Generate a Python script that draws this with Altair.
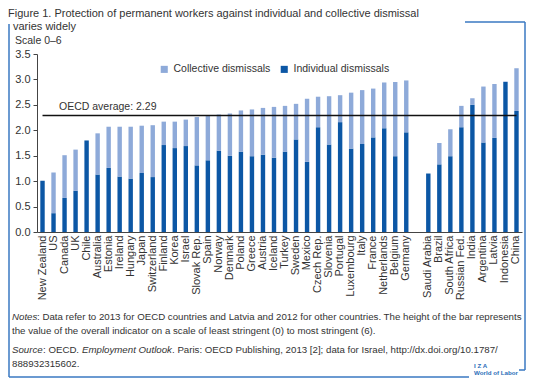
import altair as alt
import pandas as pd

countries = ["New Zealand", "US", "Canada", "UK", "Chile", "Australia", "Estonia",
             "Ireland", "Hungary", "Japan", "Switzerland", "Finland", "Korea", "Israel",
             "Slovak Rep.", "Spain", "Norway", "Denmark", "Poland", "Greece", "Austria",
             "Iceland", "Turkey", "Sweden", "Mexico", "Czech Rep.", "Slovenia", "Portugal",
             "Luxembourg", "Italy", "France", "Netherlands", "Belgium", "Germany", "_gap",
             "Saudi Arabia", "Brazil", "South Africa", "Russian Fed.", "India", "Argentina",
             "Latvia", "Indonesia", "China"]
total = [1.01, 1.17, 1.51, 1.62, 1.80, 1.94, 2.07, 2.07, 2.07, 2.09, 2.10, 2.17, 2.17,
         2.21, 2.26, 2.28, 2.31, 2.33, 2.39, 2.41, 2.44, 2.46, 2.48, 2.52, 2.62, 2.66,
         2.67, 2.69, 2.74, 2.79, 2.82, 2.94, 2.95, 2.98, None, 1.15, 1.75, 2.02, 2.48,
         2.63, 2.86, 2.91, 2.96, 3.22]
individual = [1.01, 0.37, 0.67, 0.81, 1.80, 1.13, 1.26, 1.09, 1.05, 1.16, 1.08, 1.71,
              1.65, 1.69, 1.31, 1.41, 1.60, 1.50, 1.58, 1.49, 1.52, 1.46, 1.58, 1.82,
              1.38, 2.06, 1.72, 2.16, 1.64, 1.73, 1.86, 2.04, 1.49, 1.96, None, 1.15,
              1.33, 1.49, 2.06, 2.50, 1.76, 1.85, 2.95, 2.38]
series = ["Collective dismissals", "Individual dismissals"]
colors = ["#8eaad9", "#0c57a5"]
oecd_avg = 2.29
y_ticks = [0, 0.5, 1, 1.5, 2, 2.5, 3, 3.5]

rows = []
for c, t, i in zip(countries, total, individual):
    if t is None:
        continue
    rows.append({"country": c, "type": series[1], "value": i, "ord": 0})
    rows.append({"country": c, "type": series[0], "value": max(t - i, 0), "ord": 1})
df = pd.DataFrame(rows)

FONT = "Liberation Sans, Arial, sans-serif"

xscale = alt.Scale(domain=countries, paddingInner=0.6, paddingOuter=0.3)
yscale = alt.Scale(domain=[0, 3.5], nice=False)
xaxis = alt.Axis(title=None, labelAngle=-90, ticks=False, labelPadding=3,
                 labelFontSize=11, labelColor="#333", labelFont=FONT,
                 domainColor="#444", labelLimit=200,
                 labelExpr="datum.value == '_gap' ? '' : datum.value")
yaxis = alt.Axis(title=None, values=y_ticks, format=".1f", labelOverlap=False,
                 grid=False, tickSize=4, labelFontSize=11, labelColor="#333",
                 labelFont=FONT, domainColor="#444", tickColor="#444",
                 labelPadding=3)

bars = alt.Chart(df).mark_bar().encode(
    x=alt.X("country:N", scale=xscale, sort=countries, axis=xaxis),
    y=alt.Y("value:Q", stack="zero", scale=yscale, axis=yaxis),
    color=alt.Color("type:N", scale=alt.Scale(domain=series, range=colors),
                    legend=alt.Legend(title=None, orient="none", legendX=122, legendY=10,
                                      direction="horizontal", symbolType="square",
                                      symbolSize=50, symbolStrokeWidth=0,
                                      labelFontSize=10.5, labelColor="#333", labelFont=FONT,
                                      columnPadding=8, labelOffset=4)),
    order=alt.Order("ord:Q"),
)

one = alt.Data(values=[{}])

avg_rule = alt.Chart(one).mark_rule(color="#111", strokeWidth=1.5).encode(
    x=alt.XDatum("New Zealand", scale=xscale, axis=xaxis),
    x2=alt.X2Datum("China"),
    y=alt.YDatum(oecd_avg, scale=yscale, axis=yaxis))
avg_text = alt.Chart(one).mark_text(align="left", baseline="bottom", dy=-4, fontSize=10.5,
                                    font=FONT, color="#333").encode(
    x=alt.value(22), y=alt.YDatum(oecd_avg, scale=yscale, axis=yaxis),
    text=alt.value(f"OECD average: {oecd_avg}"))


def txt(s, x, y, size=9.7, style="normal", color="#333", weight="normal"):
    return alt.Chart(one).mark_text(align="left", baseline="alphabetic", fontSize=size,
                                    fontStyle=style, color=color, font=FONT,
                                    fontWeight=weight).encode(
        x=alt.value(x), y=alt.value(y), text=alt.value(s))


texts = [
    txt("Figure 1. Protection of permanent workers against individual and collective dismissal",
        -29, -37, size=11),
    txt("varies widely", -24, -24, size=11),
    txt("Scale 0\u20136", -22, -10, size=10.5),
    txt("Notes", -25, 266, style="italic"),
    txt(": Data refer to 2013 for OECD countries and Latvia and 2012 for other countries. "
        "The height of the bar represents", 0, 266),
    txt("the value of the overall indicator on a scale of least stringent (0) to most stringent (6).",
        -25, 280),
    txt("Source", -25, 299, style="italic"),
    txt(": OECD. ", 6, 299),
    txt("Employment Outlook", 45, 299, style="italic"),
    txt(". Paris: OECD Publishing, 2013 [2]; data for Israel, http://dx.doi.org/10.1787/",
        135, 299),
    txt("888932315602.", -25, 313),
    txt("I  Z  A", 437, 314, size=6.2, color="#2a6db8", weight="bold"),
    txt("World of Labor", 437, 321, size=6.2, color="#2a6db8", weight="bold"),
]

FC = "#3a78c2"


def vline(x, y1, y2):
    return alt.Chart(one).mark_rule(color=FC, strokeWidth=1.5).encode(
        x=alt.value(x), y=alt.value(y1), y2=alt.value(y2))


def hline(x1, x2, y):
    return alt.Chart(one).mark_rule(color=FC, strokeWidth=1.5).encode(
        x=alt.value(x1), x2=alt.value(x2), y=alt.value(y))


frame = [
    vline(-28, -30, 323),
    vline(488, -32, 316),
    hline(428, 488, -32),
    hline(-28, 432, 323),
    hline(482, 488, 316),
]

chart = alt.layer(bars, avg_rule, avg_text, *texts, *frame).properties(
    width=485, height=178,
    autosize=alt.AutoSizeParams(type="none"),
    padding={"left": 29, "top": 46, "right": 5, "bottom": 148},
    background="white",
).configure_view(stroke=None)

chart.save("out.html", embed_options={"renderer": "svg", "actions": False})
